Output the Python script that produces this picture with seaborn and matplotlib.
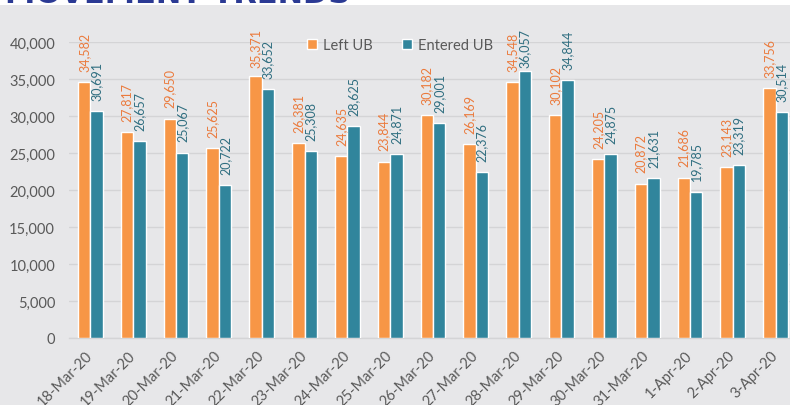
import numpy as np
import pandas as pd
import matplotlib
matplotlib.use("Agg")
import matplotlib.pyplot as plt
import seaborn as sns
from matplotlib.patches import Rectangle
from matplotlib.ticker import FuncFormatter

dates = ["18-Mar-20", "19-Mar-20", "20-Mar-20", "21-Mar-20", "22-Mar-20", "23-Mar-20",
         "24-Mar-20", "25-Mar-20", "26-Mar-20", "27-Mar-20", "28-Mar-20", "29-Mar-20",
         "30-Mar-20", "31-Mar-20", "1-Apr-20", "2-Apr-20", "3-Apr-20"]
left_ub = [34582, 27817, 29650, 25625, 35371, 26381, 24635, 23844, 30182, 26169,
           34548, 30102, 24205, 20872, 21686, 23143, 33756]
entered_ub = [30691, 26657, 25067, 20722, 33652, 25308, 28625, 24871, 29001, 22376,
              36057, 34844, 24875, 21631, 19785, 23319, 30514]
series = ["Left UB", "Entered UB"]

BG = "#E7E7E9"
BAR_COLORS = ["#F79646", "#31859C"]
LABEL_COLORS = ["#EB7A3C", "#2F6E80"]
GRID = "#D4D4D6"

df = pd.DataFrame({
    "date": dates * 2,
    "value": left_ub + entered_ub,
    "series": [series[0]] * len(dates) + [series[1]] * len(dates),
})

sns.set_style("white")
plt.rcParams["font.family"] = ["Lato", "DejaVu Sans"]

fig = plt.figure(figsize=(7.9, 4.06), dpi=100, facecolor=BG)
ax = fig.add_axes([69 / 790, 1 - 339 / 406, 728 / 790, 296 / 406])
ax.set_facecolor(BG)

sns.barplot(data=df, x="date", y="value", hue="series", order=dates,
            hue_order=series, palette=BAR_COLORS, width=0.58, gap=0,
            saturation=1, ax=ax, zorder=3)

# value labels above the bars, rotated like the Excel original
PAD = 8
anns = []
for cont, col in zip(ax.containers, LABEL_COLORS):
    for bar, v in zip(cont.patches, cont.datavalues):
        a = ax.annotate(f"{v:,.0f}", (bar.get_x() + bar.get_width() / 2, v),
                        xytext=(0, PAD), textcoords="offset points",
                        rotation=90, ha="center", va="bottom",
                        color=col, fontsize=9, annotation_clip=False)
        anns.append(a)

ax.set_ylim(0, 40000)
ax.set_xlim(-0.5, len(dates) - 0.5)
ax.set_yticks(np.arange(0, 40001, 5000))
ax.yaxis.set_major_formatter(FuncFormatter(lambda v, p: f"{v:,.0f}"))
ax.grid(axis="y", color=GRID, linewidth=1, zorder=0)
ax.set_axisbelow(True)

for s in ["top", "right", "left"]:
    ax.spines[s].set_visible(False)
ax.spines["bottom"].set_color(GRID)
ax.spines["bottom"].set_linewidth(1)

ax.tick_params(axis="y", length=0, pad=10, labelsize=10.5, labelcolor="#595959")
ax.tick_params(axis="x", which="major", length=0, pad=11, labelsize=10.5, labelcolor="#595959")
ax.set_xticks(np.arange(-0.5, len(dates), 1), minor=True)
ax.tick_params(axis="x", which="minor", length=5, color=GRID, width=1)
for lab in ax.get_xticklabels():
    lab.set_rotation(45)
    lab.set_ha("right")
    lab.set_va("center")
    lab.set_rotation_mode("anchor")

ax.set_xlabel("")
ax.set_ylabel("")

handles, labels = ax.get_legend_handles_labels()
ax.legend(handles, labels, loc="center", bbox_to_anchor=(400 / 790, 1 - 46 / 406),
          bbox_transform=fig.transFigure, ncol=2, frameon=False, fontsize=10.5,
          handlelength=0.7, handleheight=0.7, handletextpad=0.4, columnspacing=2.0,
          labelcolor="#595959")

# white strip with the cut-off title at the very top
fig.patches.append(Rectangle((0, 1 - 6 / 406), 1, 6 / 406, transform=fig.transFigure,
                             facecolor="white", edgecolor="none", zorder=0))
fig.text(5 / 790, 1 - 3 / 406, "MOVEMENT TRENDS", fontsize=22, fontweight="bold",
         color="#2B3A94", va="baseline", ha="left", family="DejaVu Sans")

# labels that would run past the chart area get pushed down (as Excel does)
fig.canvas.draw()
renderer = fig.canvas.get_renderer()
top_px = 406 - 29
for a in anns:
    bb = a.get_window_extent(renderer)
    if bb.y1 > top_px:
        shift = (bb.y1 - top_px) * 72 / fig.dpi
        a.xyann = (0, PAD - shift)

fig.savefig("out.png", dpi=100, facecolor=BG)
